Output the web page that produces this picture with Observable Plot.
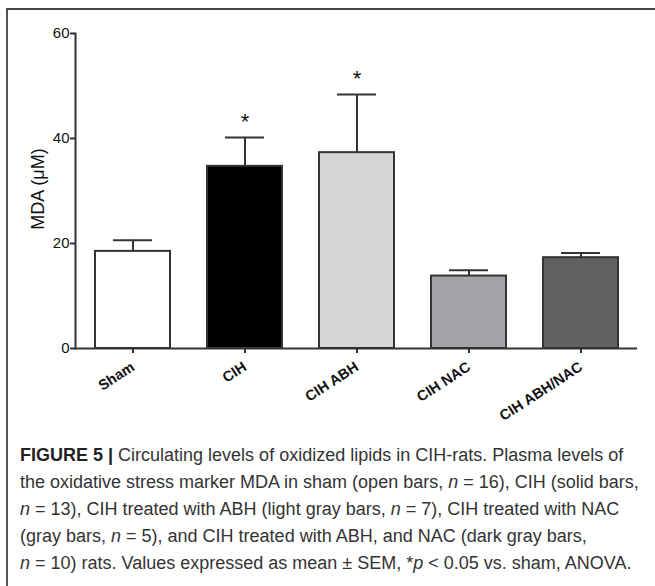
<!DOCTYPE html>
<html>
<head>
<meta charset="utf-8">
<script src="https://cdn.jsdelivr.net/npm/d3@7"></script>
<script src="https://cdn.jsdelivr.net/npm/@observablehq/plot@0.6"></script>
<style>
  html, body { margin: 0; padding: 0; background: #fff; }
  body { width: 655px; height: 586px; position: relative; overflow: hidden; }
  #frame { position: absolute; left: 6px; top: 8px; right: 0; bottom: 0;
           border-top: 2px solid #444; border-left: 2px solid #555; }
  #chart { position: absolute; left: 0; top: 0; }
  #caption { position: absolute; left: 20px; top: 442px;
             font-family: "Liberation Sans", Arial, sans-serif; font-size: 18px;
             line-height: 27px; color: #333; white-space: nowrap; }
  #caption b { color: #222; }
</style>
</head>
<body>
<div id="frame"></div>
<div id="chart"></div>
<div id="caption">
  <div><b>FIGURE 5 |</b> Circulating levels of oxidized lipids in CIH-rats. Plasma levels of</div>
  <div>the oxidative stress marker MDA in sham (open bars, <i>n</i> = 16), CIH (solid bars,</div>
  <div><i>n</i> = 13), CIH treated with ABH (light gray bars, <i>n</i> = 7), CIH treated with NAC</div>
  <div>(gray bars, <i>n</i> = 5), and CIH treated with ABH, and NAC (dark gray bars,</div>
  <div><i>n</i> = 10) rats. Values expressed as mean ± SEM, *<i>p</i> &lt; 0.05 vs. sham, ANOVA.</div>
</div>
<script>
const categories = ["Sham", "CIH", "CIH ABH", "CIH NAC", "CIH ABH/NAC"];
const means = [18.5, 34.7, 37.3, 13.8, 17.3];
const sems = [2.1, 5.5, 11.1, 1.1, 0.9];
const fills = ["#ffffff", "#000000", "#d6d6d6", "#a4a4a8", "#616161"];
const sigMarks = ["", "*", "*", "", ""];
const yTicks = [0, 20, 40, 60];
const yLabel = "MDA (μM)";

const data = categories.map((c, i) => ({
  group: c, mean: means[i], top: means[i] + sems[i], fill: fills[i], mark: sigMarks[i]
}));

const chart = Plot.plot({
  width: 655,
  height: 440,
  marginLeft: 75,
  marginRight: 18,
  marginTop: 33,
  marginBottom: 92,
  style: { fontFamily: "'Liberation Sans', Arial, sans-serif", background: "transparent", color: "#111" },
  x: { domain: categories, paddingInner: 0.333, paddingOuter: 0.167, label: null },
  y: { domain: [0, 60], label: null },
  color: { type: "identity" },
  marks: [
    Plot.barY(data, { x: "group", y: "mean", fill: "fill", stroke: "#333", strokeWidth: 2 }),
    Plot.ruleX(data, { x: "group", y1: "mean", y2: "top", stroke: "#333", strokeWidth: 2 }),
    Plot.tickY(data, { x: "group", y: "top", stroke: "#333", strokeWidth: 2, insetLeft: 18, insetRight: 18 }),
    Plot.text(data.filter(d => d.mark), { x: "group", y: "top", text: "mark", dy: -15, fontSize: 22, lineAnchor: "middle", fill: "#111" }),
    Plot.frame({ anchor: "left", stroke: "#333", strokeWidth: 2 }),
    Plot.ruleY([0], { stroke: "#333", strokeWidth: 2 }),
    Plot.axisY({ ticks: yTicks, tickSize: 5, tickPadding: 1, fontSize: 15, label: null, strokeWidth: 2, stroke: "#333" }),
    Plot.axisX({ tickSize: 5, tickPadding: 12, tickRotate: -33, fontSize: 14.5, fontWeight: "bold", label: null, strokeWidth: 2, stroke: "#333" }),
    Plot.text([yLabel], { frameAnchor: "left", text: d => d, rotate: -90, textAnchor: "middle", dx: -37, dy: -2, fontSize: 18, fill: "#111" })
  ]
});
document.getElementById("chart").appendChild(chart);
</script>
</body>
</html>
